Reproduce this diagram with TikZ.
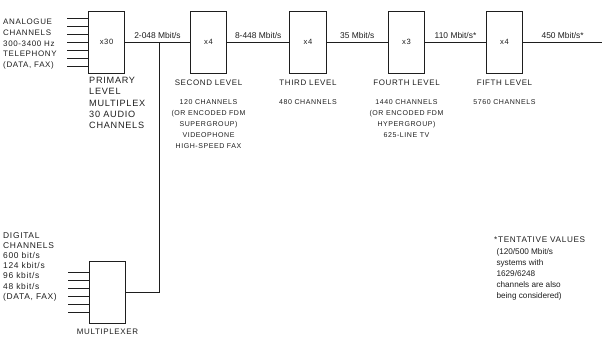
\documentclass[tikz,border=0pt]{standalone}
\usepackage{fontspec}
\usepackage{tikz}
\usepackage{xcolor}
\setmainfont{Liberation Sans}
\newfontfamily\capsfont[LetterSpace=8]{Liberation Sans}
\usetikzlibrary{positioning}
\definecolor{Ink}{HTML}{1E1E1E}
\definecolor{Paper}{HTML}{FFFFFF}
\tikzset{
  mux/.style={
    draw=Ink,line width=0.8pt,fill=Paper,
    minimum width=11mm,minimum height=18.6mm,inner sep=0pt,
    font=\capsfont\fontsize{6.5}{7}\selectfont,text=Ink
  },
  wire/.style={draw=Ink,line width=0.8pt},
  rate/.style={above=2.2pt,inner sep=0pt,font=\fontsize{7.2}{8}\selectfont,text=Ink},
  level/.style={inner sep=0pt,font=\capsfont\fontsize{6.8}{8}\selectfont,text=Ink},
  chan/.style={
    inner sep=0pt,align=center,
    font=\capsfont\fontsize{6}{9.4}\selectfont,text=Ink
  },
  side/.style={
    inner sep=0pt,align=left,
    font=\capsfont\fontsize{6.8}{9.1}\selectfont,text=Ink
  },
  note/.style={
    inner sep=0pt,align=left,
    font=\fontsize{7}{9.5}\selectfont,text=Ink
  }
}

\begin{document}
\begin{tikzpicture}[x=0.3mm,y=-0.3mm]
  \useasboundingbox (0,0) rectangle (602,337);
  % multiplexer chain
  \node[mux] (prim) at (106.5,42) {x30};
  \node[mux] (lvl2) at (208.5,42) {x4};
  \node[mux] (lvl3) at (308,42) {x4};
  \node[mux] (lvl4) at (406.5,42) {x3};
  \node[mux] (lvl5) at (504.5,42) {x4};
  \node[mux] (dmux) at (107.5,292) {};
  \coordinate (tap) at (159,42);
  \coordinate (out) at (602,42);

  \draw[wire] (prim) -- node[rate]{2-048 Mbit/s} (lvl2);
  \draw[wire] (lvl2) -- node[rate]{8-448 Mbit/s} (lvl3);
  \draw[wire] (lvl3) -- node[rate]{35 Mbit/s} (lvl4);
  \draw[wire] (lvl4) -- node[rate]{110 Mbit/s*} (lvl5);
  \draw[wire] (lvl5) -- node[rate]{450 Mbit/s*} (out);
  \draw[wire] (dmux) -| (tap);

  % input channels
  \foreach \y [count=\i] in {18,26,34,42,50,58,66} {
    \coordinate (ain\i) at (67,\y);
    \draw[wire] (ain\i) -- (ain\i -| prim.west);
  }
  \foreach \y [count=\i] in {272,280,288,296,304,312} {
    \coordinate (din\i) at (68,\y);
    \draw[wire] (din\i) -- (din\i -| dmux.west);
  }

  \node[side,anchor=north west] (atext) at (3,19)
    {ANALOGUE\\CHANNELS\\300-3400 Hz\\TELEPHONY\\(DATA, FAX)};
  \node[side,anchor=north west,font=\capsfont\fontsize{7.8}{9.7}\selectfont] (ptext) at (89,77)
    {PRIMARY\\LEVEL\\MULTIPLEX\\30 AUDIO\\CHANNELS};
  \node[side,anchor=north west,font=\capsfont\fontsize{7.2}{8.7}\selectfont] (dtext) at (3,232)
    {DIGITAL\\CHANNELS\\600 bit/s\\124 kbit/s\\96 kbit/s\\48 kbit/s\\(DATA, FAX)};
  \node[side,below=1.6mm of dmux] (dname) {MULTIPLEXER};

  % level names and capacities
  \node[level,below=1.8mm of lvl2] (n2) {SECOND LEVEL};
  \node[level,below=1.8mm of lvl3] (n3) {THIRD LEVEL};
  \node[level,below=1.8mm of lvl4] (n4) {FOURTH LEVEL};
  \node[level,below=1.8mm of lvl5] (n5) {FIFTH LEVEL};
  \node[chan,anchor=north] (c2) at (lvl2 |- 0,99)
    {120 CHANNELS\\(OR ENCODED FDM\\SUPERGROUP)\\VIDEOPHONE\\HIGH-SPEED FAX};
  \node[chan,anchor=north] (c3) at (lvl3 |- 0,99) {480 CHANNELS};
  \node[chan,anchor=north] (c4) at (lvl4 |- 0,99)
    {1440 CHANNELS\\(OR ENCODED FDM\\HYPERGROUP)\\625-LINE TV};
  \node[chan,anchor=north] (c5) at (lvl5 |- 0,99) {5760 CHANNELS};

  \node[note,anchor=north west] (fn) at (494,237)
    {{\capsfont*TENTATIVE VALUES}\\\ (120/500 Mbit/s\\\ systems with\\\ 1629/6248\\\ channels are also\\\ being considered)};
\end{tikzpicture}
\end{document}
